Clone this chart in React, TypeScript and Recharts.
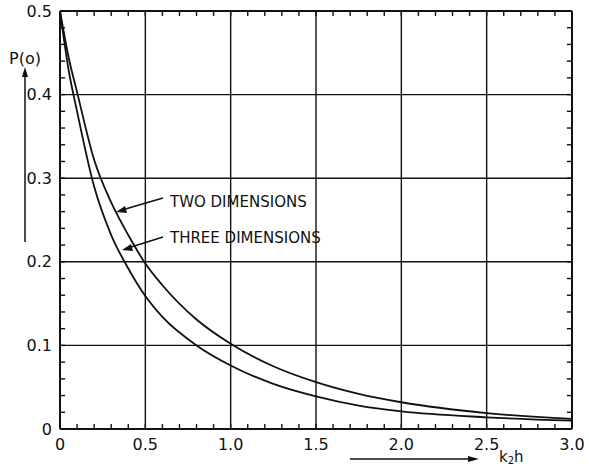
import React from 'react';
import { LineChart, Line, XAxis, YAxis, ReferenceLine } from 'recharts';

const kh = [0, 0.05, 0.1, 0.2, 0.3, 0.4, 0.5, 0.6, 0.8, 1.0, 1.25, 1.5, 1.75, 2.0, 2.5, 3.0];
const twoDims = [0.5, 0.445, 0.403, 0.322, 0.271, 0.232, 0.198, 0.172, 0.131, 0.102, 0.075, 0.056, 0.042, 0.032, 0.019, 0.012];
const threeDims = [0.5, 0.43, 0.38, 0.29, 0.232, 0.192, 0.159, 0.134, 0.1, 0.076, 0.054, 0.039, 0.028, 0.021, 0.014, 0.01];

const xLabels = [0, 0.5, 1.0, 1.5, 2.0, 2.5, 3.0];
const yLabels = [0, 0.1, 0.2, 0.3, 0.4, 0.5];
const xGrid = [0.5, 1.0, 1.5, 2.0, 2.5];
const yGrid = [0.1, 0.2, 0.3, 0.4];
const xMinor = Array.from({ length: 29 }, (_, i) => (i + 1) / 10);
const yMinor = Array.from({ length: 24 }, (_, i) => (i + 1) / 50);

const X_MAX = 3;
const Y_MAX = 0.5;
// tick mark length in axis units (about 5px)
const XT = 0.03;
const YT = 0.006;

const font = '"DejaVu Sans", sans-serif';
const ink = '#111';

const chartData = kh.map((x, i) => ({ x, two: twoDims[i], three: threeDims[i] }));

const fmt = (v: number) => (v === 0 ? '0' : v.toFixed(1));

const App: React.FC = () => {
  const tickStyle = { fill: ink, fontSize: 16, fontFamily: font };
  const frame = { stroke: ink, strokeWidth: 2 };
  return (
    <div style={{ position: 'absolute', left: 0, top: 0, width: 589, height: 468, background: '#fff' }}>
      <LineChart width={589} height={468} data={chartData} margin={{ top: 11, right: 17, left: 0, bottom: 0 }}>
        <XAxis
          dataKey="x"
          type="number"
          domain={[0, X_MAX]}
          ticks={xLabels}
          interval={0}
          height={39}
          tickSize={0}
          tickMargin={10}
          tick={tickStyle}
          tickFormatter={fmt}
          axisLine={frame}
          tickLine={false}
        />
        <YAxis
          type="number"
          domain={[0, Y_MAX]}
          ticks={yLabels}
          interval={0}
          width={60}
          tickSize={0}
          tickMargin={8}
          tick={tickStyle}
          tickFormatter={fmt}
          axisLine={frame}
          tickLine={false}
        />
        {xGrid.map(v => (
          <ReferenceLine key={'x' + v} x={v} stroke={ink} strokeWidth={1.4} />
        ))}
        {yGrid.map(v => (
          <ReferenceLine key={'y' + v} y={v} stroke={ink} strokeWidth={1.4} />
        ))}
        {/* top and right edges of the frame */}
        <ReferenceLine x={X_MAX} stroke={ink} strokeWidth={2} />
        <ReferenceLine y={Y_MAX} stroke={ink} strokeWidth={2} />
        {/* small inward ticks on all four sides */}
        {xMinor.map(v => (
          <ReferenceLine key={'bt' + v} segment={[{ x: v, y: 0 }, { x: v, y: YT }]} stroke={ink} strokeWidth={1.4} />
        ))}
        {xMinor.map(v => (
          <ReferenceLine key={'tt' + v} segment={[{ x: v, y: Y_MAX }, { x: v, y: Y_MAX - YT }]} stroke={ink} strokeWidth={1.4} />
        ))}
        {yMinor.map(v => (
          <ReferenceLine key={'lt' + v} segment={[{ x: 0, y: v }, { x: XT, y: v }]} stroke={ink} strokeWidth={1.4} />
        ))}
        {yMinor.map(v => (
          <ReferenceLine key={'rt' + v} segment={[{ x: X_MAX, y: v }, { x: X_MAX - XT, y: v }]} stroke={ink} strokeWidth={1.4} />
        ))}
        <Line type="monotone" dataKey="two" stroke={ink} strokeWidth={1.8} dot={false} isAnimationActive={false} />
        <Line type="monotone" dataKey="three" stroke={ink} strokeWidth={1.8} dot={false} isAnimationActive={false} />
      </LineChart>
      <svg
        width={589}
        height={468}
        style={{ position: 'absolute', left: 0, top: 0, pointerEvents: 'none' }}
        fontFamily={font}
        fill={ink}
      >
        {/* y label with upward arrow */}
        <text x={9} y={64} fontSize={16}>P(o)</text>
        <line x1={25} y1={242} x2={25} y2={74} stroke={ink} strokeWidth={1.5} />
        <polygon points="25,67 22,77 28,77" fill={ink} />
        {/* x label with arrow */}
        <line x1={350} y1={459} x2={470} y2={459} stroke={ink} strokeWidth={1.5} />
        <polygon points="479,459 468,456 468,462" fill={ink} />
        <text x={499} y={462} fontSize={15}>k<tspan fontSize={10} dy={2}>2</tspan><tspan dy={-2}>h</tspan></text>
        {/* curve annotations */}
        <text x={170} y={207} fontSize={15}>TWO DIMENSIONS</text>
        <line x1={163} y1={198} x2={122} y2={210} stroke={ink} strokeWidth={1.4} />
        <polygon points="116,212 125,206 127,213" fill={ink} />
        <text x={170} y={243} fontSize={15}>THREE DIMENSIONS</text>
        <line x1={163} y1={237} x2={128} y2={248} stroke={ink} strokeWidth={1.4} />
        <polygon points="122,250 131,244 133,251" fill={ink} />
      </svg>
    </div>
  );
};

export default App;
